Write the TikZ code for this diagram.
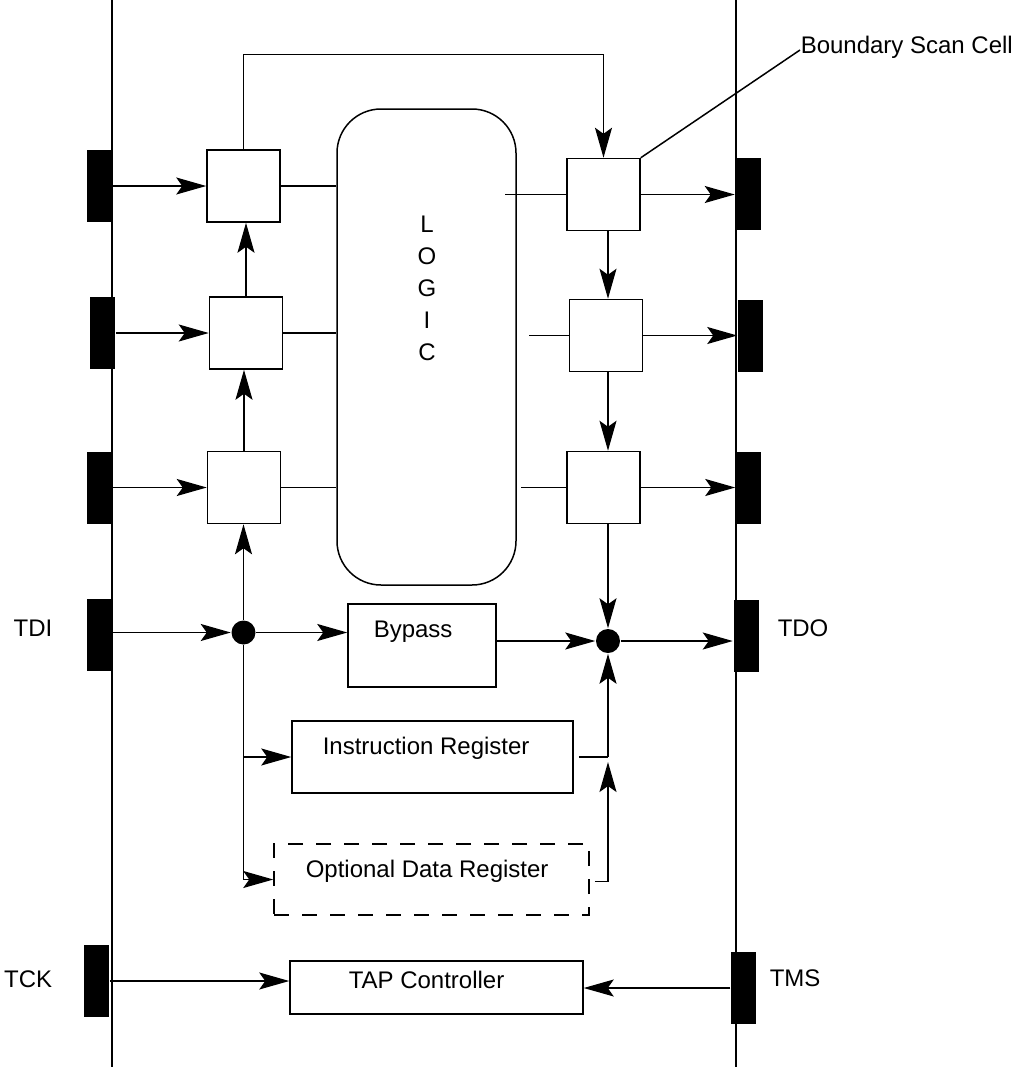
\documentclass[tikz,border=0pt]{standalone}
\usepackage{fontspec}
\setmainfont{Liberation Sans}
\usetikzlibrary{arrows.meta}
\begin{document}
\begin{tikzpicture}[x=0.5pt,y=-0.5pt, line width=0.75pt,
 font=\fontsize{12}{14}\selectfont,
 arr/.style={-{Stealth[length=15pt,width=8.5pt,inset=3pt]}},
 cell/.style={draw, minimum width=36.5pt, minimum height=36pt, inner sep=0},
 pin/.style={fill=black, minimum width=12.5pt, minimum height=36pt, inner sep=0},
 dot/.style={circle, fill=black, minimum size=12pt, inner sep=0},
 box/.style={draw, inner sep=0},
 lbl/.style={inner sep=0}]
\useasboundingbox (0,0) rectangle (1018,1067);
% chip outline
\draw (112,0) -- (112,1067);
\draw (736,0) -- (736,1067);
% pins
\node[pin] (lp1) at (99.5,186) {};
\node[pin] (lp2) at (102.5,333) {};
\node[pin] (lp3) at (99.5,487.5) {};
\node[pin] (tdi) at (99.5,634.5) {};
\node[pin] (tck) at (96.5,981) {};
\node[pin] (rp1) at (748,194) {};
\node[pin] (rp2) at (750.5,336) {};
\node[pin] (rp3) at (748.5,487.5) {};
\node[pin] (tdo) at (746,635.5) {};
\node[pin] (tms) at (743.5,988) {};
% cells
\node[cell] (lc1) at (243.5,186) {};
\node[cell] (lc2) at (246,333) {};
\node[cell] (lc3) at (244,487.5) {};
\node[cell] (rc1) at (603.5,194.5) {};
\node[cell] (rc2) at (606,335.5) {};
\node[cell] (rc3) at (603.5,487.5) {};
% logic
\node[draw, rounded corners=22pt, minimum width=89.5pt, minimum height=238pt, inner sep=0] (logic) at (426.5,347) {};
\node[lbl, align=center, font=\fontsize{12}{16}\selectfont] (logictxt) at (427,288) {L\\O\\G\\I\\C};
% dots
\node[dot] (dot1) at (243.5,632.5) {};
\node[dot] (dot2) at (608,641) {};
% registers
\node[box, minimum width=74pt, minimum height=41.5pt] (bypass) at (422,645.5) {};
\node[lbl, anchor=base west] (bptxt) at (373,637) {Bypass};
\node[box, minimum width=140.5pt, minimum height=36pt] (ir) at (432.5,757) {};
\node[lbl, anchor=base west] (irtxt) at (322,754) {Instruction Register};
\node[box, dash pattern=on 7.5pt off 6.5pt, minimum width=157.5pt, minimum height=35.5pt] (odr) at (431.5,879.5) {};
\node[lbl, anchor=base west] (odrtxt) at (305,877) {Optional Data Register};
\node[box, minimum width=146.5pt, minimum height=26.5pt] (tap) at (436.5,987.5) {};
\node[lbl, anchor=base west] (taptxt) at (348,988) {TAP Controller};
% labels
\node[lbl, anchor=base east] (tdil) at (53,636) {TDI};
\node[lbl, anchor=base west] (tdol) at (777,636) {TDO};
\node[lbl, anchor=base east] (tckl) at (53,987) {TCK};
\node[lbl, anchor=base west] (tmsl) at (769,986) {TMS};
\node[lbl, anchor=base west] (bsc) at (800,53) {Boundary Scan Cell};
\draw (rc1.north east) -- ([yshift=1.5pt]bsc.base west);
% pin inputs
\draw[arr] (lp1.east) -- (lc1.west);
\draw[arr] (lp2.east) -- (lc2.west);
\draw[arr] (lp3.east) -- (lc3.west);
% left column
\draw[arr] (lc3.north) -- (lc3.north |- lc2.south);
\draw[arr] (lc2.north) -- (lc2.north |- lc1.south);
\draw[arr] (lc1.north) -- ++(0,-95) -| (rc1.north);
% to logic
\draw (lc1.east) -- (lc1.east -| logic.west);
\draw (lc2.east) -- (lc2.east -| logic.west);
\draw (lc3.east) -- (lc3.east -| logic.west);
\draw (rc1.west) -- ++(-61,0);
\draw (rc2.west) -- ++(-40,0);
\draw (rc3.west) -- ++(-45,0);
% outputs
\draw[arr] (rc1.east) -- (rc1.east -| rp1.west);
\draw[arr] (rc2.east) -- (rc2.east -| rp2.west);
\draw[arr] (rc3.east) -- (rc3.east -| rp3.west);
% right column
\draw[arr] (rc1.south -| dot2) -- (rc2.north -| dot2);
\draw[arr] (rc2.south -| dot2) -- (rc3.north -| dot2);
\draw[arr] (dot2 |- rc3.south) -- (dot2.north);
% TDI path
\draw[arr] (tdi.east |- dot1) -- (dot1.west);
\draw[arr] (dot1.north) -- (dot1.north |- lc3.south);
\draw[arr] (dot1.east) -- (dot1.east -| bypass.west);
\draw[arr] (bypass.east |- dot2) -- (dot2.west);
\draw[arr] (dot2.east) -- (dot2.east -| tdo.west);
\draw[arr] (dot1 |- ir.west) -- (ir.west);
\draw[arr] (dot1.south) |- (odr.west);
\coordinate (irj) at (dot2 |- ir.east);
\draw ([xshift=2.5pt]ir.east) -- (irj);
\draw[arr] (irj) -- (dot2.south);
\draw[arr] ([xshift=2.5pt,yshift=-1pt]odr.east) -| ([yshift=-2.5pt]irj);
% TAP
\draw[arr] (tck.east) -- (tck.east -| tap.west);
\draw[arr] (tms.west) -- (tms.west -| tap.east);
\end{tikzpicture}
\end{document}
